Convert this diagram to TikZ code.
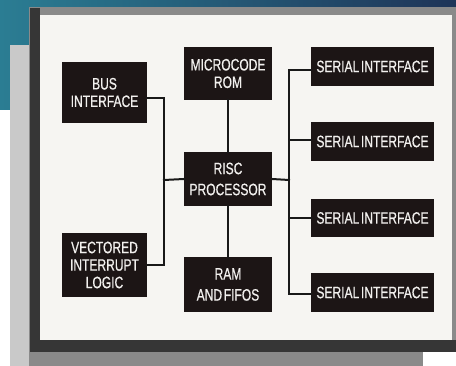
\documentclass[tikz,border=0pt]{standalone}
\usepackage{fontspec}
\newfontfamily\cond[FakeStretch=0.73,WordSpace=0.5,FakeBold=0.6]{Liberation Sans}
\definecolor{tealA}{HTML}{2B7D93}
\definecolor{navyA}{HTML}{1E3458}
\definecolor{lightdot}{HTML}{C9C9C9}
\definecolor{middot}{HTML}{8A8A8A}
\definecolor{darkband}{HTML}{363636}
\definecolor{panel}{HTML}{F6F5F2}
\definecolor{boxfill}{HTML}{1C1515}
\definecolor{boxtext}{HTML}{F2F0EE}
\tikzset{
  blk/.style={draw=none, fill=boxfill, text=boxtext, align=center, inner sep=0pt,
    font=\cond\fontsize{16.5}{17.5}\selectfont},
  blkwide/.style={blk, font=\cond\fontsize{16.5}{21}\selectfont},
  wire/.style={line width=2pt, draw=black!90, line cap=rect}
}
\begin{document}
\begin{tikzpicture}[x=1pt,y=-1pt]
\useasboundingbox (0,0) rectangle (456,366);
% background
\fill[white] (0,0) rectangle (456,366);
\shade[left color=tealA, right color=navyA] (0,0) rectangle (456,115);
\fill[white] (0,110) rectangle (10,366);
\fill[lightdot] (10,45) rectangle (30,366);
\fill[middot] (29,7) rectangle (456,366);
\fill[darkband] (30,8) rectangle (40,352);
\fill[darkband] (30,340) rectangle (456,352);
\fill[white] (423,352) rectangle (456,366);
\fill[panel] (40,15) rectangle (452,340);
% blocks
\node[blk, minimum width=85pt, minimum height=61pt] (bus) at (104.5,92.5) {BUS\\INTERFACE};
\node[blk, minimum width=85pt, minimum height=64pt] (vec) at (104.5,265) {VECTORED\\INTERRUPT\\LOGIC};
\node[blk, minimum width=88pt, minimum height=53pt] (mic) at (228,73.5) {MICROCODE\\ROM};
\node[blkwide, minimum width=88pt, minimum height=54pt] (risc) at (228,179) {RISC\\PROCESSOR};
\node[blkwide, minimum width=88pt, minimum height=55pt] (ram) at (228,284.5) {RAM\\AND FIFOS};
\node[blk, minimum width=123pt, minimum height=39pt] (s1) at (372.5,66.5) {SERIAL INTERFACE};
\node[blk, minimum width=123pt, minimum height=39pt] (s2) at (372.5,141.5) {SERIAL INTERFACE};
\node[blk, minimum width=123pt, minimum height=38pt] (s3) at (372.5,218) {SERIAL INTERFACE};
\node[blk, minimum width=123pt, minimum height=39pt] (s4) at (372.5,292.5) {SERIAL INTERFACE};
% junctions
\coordinate (L) at (164,180);
\coordinate (R) at (289,180);
% connectors
\draw[wire] ([yshift=-5.5pt]bus.east) -| (L) |- (vec.east);
\draw[wire] (L) -- (risc.west);
\draw[wire] (mic.south) -- (risc.north);
\draw[wire] (risc.south) -- (ram.north);
\draw[wire] (risc.east) -- (R);
\draw[wire] ([yshift=-3.5pt]s1.west) -| (R) |- ([yshift=-1.5pt]s4.west);
\draw[wire] ([yshift=1.5pt]s2.west) -| (R);
\draw[wire] (s3.west) -| (R);
\end{tikzpicture}
\end{document}
